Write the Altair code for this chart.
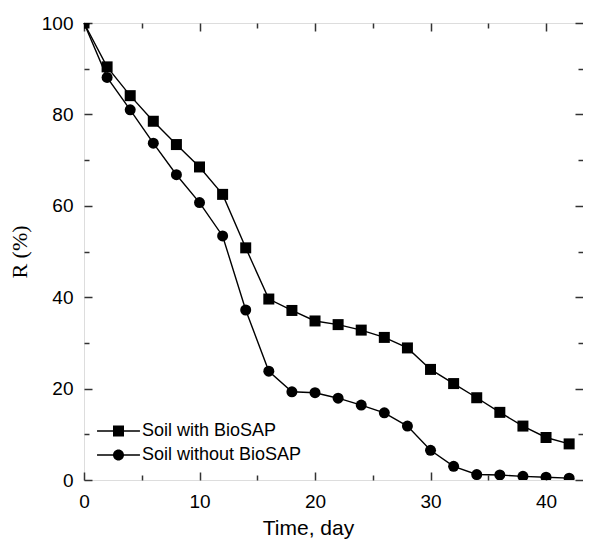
import altair as alt
import pandas as pd

days = [0, 2, 4, 6, 8, 10, 12, 14, 16, 18, 20, 22, 24, 26, 28, 30, 32, 34, 36, 38, 40, 42]
with_biosap = [100, 90.4, 84.1, 78.5, 73.4, 68.5, 62.5, 50.8, 39.6, 37.1, 34.8, 34.0,
               32.8, 31.2, 28.9, 24.2, 21.1, 18.0, 14.8, 11.8, 9.3, 7.9]
without_biosap = [100, 88.1, 81.0, 73.7, 66.8, 60.7, 53.4, 37.2, 23.8, 19.3, 19.1, 17.9,
                  16.4, 14.7, 11.8, 6.5, 3.0, 1.2, 1.1, 0.8, 0.6, 0.4]
series_names = ["Soil with BioSAP", "Soil without BioSAP"]
x_major = [0, 10, 20, 30, 40]
x_minor = [5, 15, 25, 35]
y_major = [0, 20, 40, 60, 80, 100]
y_minor = [10, 30, 50, 70, 90]

rows = []
for d, a, b in zip(days, with_biosap, without_biosap):
    rows.append({"day": d, "R": a, "series": series_names[0]})
    rows.append({"day": d, "R": b, "series": series_names[1]})
df = pd.DataFrame(rows)

FONT = "Liberation Sans"
xscale = alt.Scale(domain=[0, 43.2], nice=False, zero=False)
yscale = alt.Scale(domain=[0, 100], nice=False, zero=False)
TICK = "#333333"


def tick_axis(orient, values, size):
    return alt.Axis(orient=orient, values=values, labels=False, title=None, domain=False,
                    grid=False, ticks=True, tickSize=size, offset=-size,
                    tickColor=TICK, tickWidth=1.5)


base = alt.Chart(df)

lines = base.mark_line(color="black", strokeWidth=1.4).encode(
    x=alt.X("day:Q", scale=xscale,
            axis=alt.Axis(orient="bottom", values=x_major, ticks=False, tickSize=0,
                          domain=False, grid=False, labelFont=FONT, labelFontSize=19,
                          labelColor="black", labelPadding=12, labelFlush=False,
                          title="Time, day",
                          titleFont=FONT, titleFontSize=21, titleFontWeight="normal",
                          titleColor="black", titleX=224, titleY=54,
                          titleBaseline="alphabetic")),
    y=alt.Y("R:Q", scale=yscale,
            axis=alt.Axis(orient="left", values=y_major, ticks=False, tickSize=0,
                          domain=False, grid=False, labelFont=FONT, labelFontSize=19,
                          labelColor="black", labelPadding=11, labelFlush=False,
                          title="R (%)",
                          titleFont="Liberation Serif", titleFontSize=22,
                          titleFontWeight="normal", titleColor="black", titlePadding=10)),
    detail="series:N",
)

points = base.mark_point(filled=True, color="black", opacity=1, size=121, clip=True).encode(
    x=alt.X("day:Q", scale=xscale, axis=tick_axis("bottom", x_major, 8)),
    y=alt.Y("R:Q", scale=yscale, axis=tick_axis("left", y_major, 8)),
    shape=alt.Shape("series:N", scale=alt.Scale(domain=series_names, range=["square", "circle"]),
                    legend=None),
)

sq_path = "M-3.9,-0.12H3.9V0.12H-3.9ZM-1,-1H1V1H-1Z"
ci_path = "M-3.9,-0.12H3.9V0.12H-3.9ZM1,0A1,1,0,1,1,-1,0A1,1,0,1,1,1,0Z"

legend_layer = base.transform_filter("datum.day < 0").mark_point(
    filled=True, color="black").encode(
    x=alt.X("day:Q", scale=xscale, axis=tick_axis("top", x_major, 8)),
    y=alt.Y("R:Q", scale=yscale, axis=tick_axis("right", y_major, 8)),
    shape=alt.Shape("series:N", scale=alt.Scale(domain=series_names, range=[sq_path, ci_path]),
                    legend=alt.Legend(orient="none", legendX=25.5, legendY=399, title=None,
                                      padding=0, symbolSize=121, symbolFillColor="black",
                                      symbolStrokeColor="black", symbolStrokeWidth=0,
                                      symbolOpacity=1, labelFont=FONT, labelFontSize=18,
                                      labelColor="black", labelOffset=14.5, rowPadding=6)),
)

minor_bl = base.transform_filter("datum.day < 0").mark_point().encode(
    x=alt.X("day:Q", scale=xscale, axis=tick_axis("bottom", x_minor, 5)),
    y=alt.Y("R:Q", scale=yscale, axis=tick_axis("left", y_minor, 5)),
)
minor_tr = base.transform_filter("datum.day < 0").mark_point().encode(
    x=alt.X("day:Q", scale=xscale, axis=tick_axis("top", x_minor, 5)),
    y=alt.Y("R:Q", scale=yscale, axis=tick_axis("right", y_minor, 5)),
)

chart = alt.layer(lines, points, legend_layer, minor_bl, minor_tr).resolve_axis(
    x="independent", y="independent"
).resolve_scale(shape="independent").properties(
    width=499, height=457,
    autosize=alt.AutoSizeParams(type="none"),
    padding={"left": 76, "top": 15, "right": 0, "bottom": 59},
).configure_view(stroke="#333333", strokeWidth=1.5).configure(background="white")

chart.save("out.html", embed_options={"renderer": "svg", "actions": False})
